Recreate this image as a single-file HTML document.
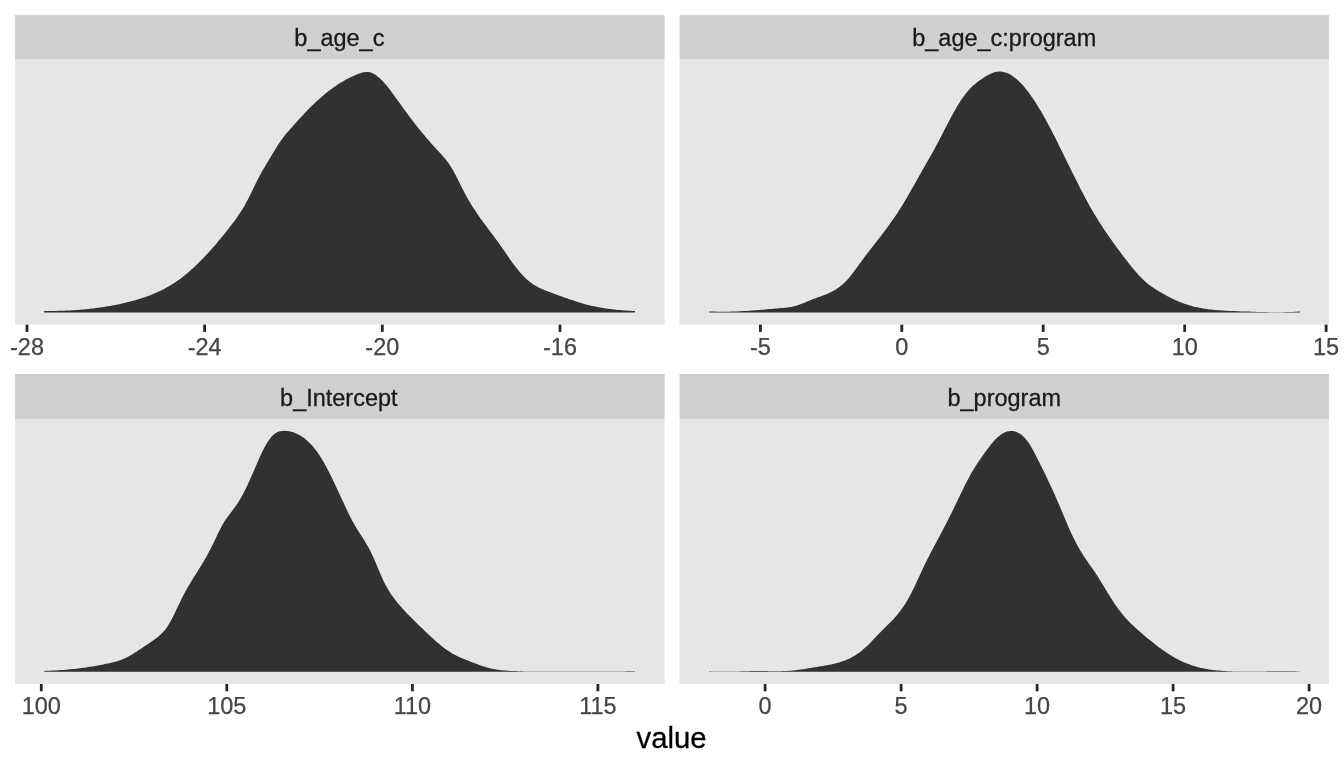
<!DOCTYPE html>
<html lang="en">
<head>
<meta charset="utf-8">
<title>Posterior densities</title>
<style>
html,body{margin:0;padding:0;background:#fff;}
body{width:1344px;height:768px;overflow:hidden;}
svg{display:block;}
text{font-family:"Liberation Sans",sans-serif;}
.strip{font-size:23.47px;fill:#1A1A1A;stroke:#1A1A1A;stroke-width:0.3px;text-anchor:middle;}
.ax{font-size:23.47px;fill:#454545;stroke:#454545;stroke-width:0.25px;text-anchor:middle;}
.title{font-size:29.33px;fill:#000;stroke:#000;stroke-width:0.3px;text-anchor:middle;}
</style>
</head>
<body>
<svg width="1344" height="768" viewBox="0 0 1344 768">
<rect x="0" y="0" width="1344" height="768" fill="#FFFFFF"/>
<g>
<rect x="15" y="15" width="649.6" height="44.2" fill="#D0D0D0"/>
<rect x="15" y="59.2" width="649.6" height="265.4" fill="#E6E6E6"/>
<text class="strip" x="339.4" y="46">b_age_c</text>
<path d="M44.1 312.6L44.1 311.0L46.1 311.0L48.1 311.0L50.1 311.0L52.1 311.0L54.1 310.9L56.1 310.9L58.1 310.8L60.1 310.8L62.1 310.7L64.1 310.7L66.1 310.6L68.1 310.5L70.1 310.4L72.1 310.3L74.1 310.2L76.1 310.0L78.1 309.9L80.1 309.7L82.1 309.6L84.1 309.4L86.1 309.2L88.1 309.0L90.1 308.8L92.1 308.6L94.1 308.4L96.1 308.1L98.1 307.8L100.1 307.6L102.1 307.3L104.1 307.0L106.1 306.6L108.1 306.3L110.1 306.0L112.1 305.6L114.1 305.2L116.1 304.8L118.1 304.4L120.1 304.0L122.1 303.5L124.1 303.1L126.1 302.6L128.1 302.1L130.1 301.6L132.1 301.0L134.1 300.5L136.1 299.9L138.1 299.3L140.1 298.7L142.1 298.0L144.1 297.4L146.1 296.7L148.1 295.9L150.1 295.2L152.1 294.4L154.1 293.6L156.1 292.7L158.1 291.8L160.1 290.9L162.1 289.9L164.1 288.9L166.1 287.8L168.1 286.7L170.1 285.5L172.1 284.3L174.1 283.0L176.1 281.7L178.1 280.3L180.1 278.9L182.1 277.4L184.1 275.8L186.1 274.2L188.1 272.5L190.1 270.8L192.1 269.0L194.1 267.2L196.1 265.3L198.1 263.3L200.1 261.3L202.1 259.3L204.1 257.2L206.1 255.1L208.1 252.9L210.1 250.7L212.1 248.5L214.1 246.2L216.1 243.9L218.1 241.5L220.1 239.1L222.1 236.7L224.1 234.2L226.1 231.7L228.1 229.2L230.1 226.6L232.1 224.0L234.1 221.4L236.1 218.7L238.1 215.8L240.1 212.8L242.1 209.7L244.1 206.4L246.1 202.8L248.1 199.0L250.1 195.0L252.1 190.9L254.1 186.8L256.1 182.7L258.1 178.8L260.1 175.0L262.1 171.3L264.1 167.9L266.1 164.5L268.1 161.2L270.1 157.9L272.1 154.5L274.1 151.2L276.1 148.0L278.1 144.8L280.1 141.8L282.1 139.0L284.1 136.3L286.1 133.8L288.1 131.5L290.1 129.2L292.1 126.9L294.1 124.7L296.1 122.5L298.1 120.2L300.1 118.1L302.1 115.9L304.1 113.8L306.1 111.7L308.1 109.6L310.1 107.6L312.1 105.6L314.1 103.7L316.1 101.8L318.1 100.0L320.1 98.2L322.1 96.4L324.1 94.7L326.1 93.1L328.1 91.5L330.1 89.9L332.1 88.4L334.1 87.0L336.1 85.7L338.1 84.3L340.1 83.1L342.1 81.9L344.1 80.7L346.1 79.6L348.1 78.5L350.1 77.5L352.1 76.6L354.1 75.7L356.1 74.8L358.1 74.0L360.1 73.2L362.1 72.6L364.1 72.2L366.1 71.9L368.1 72.0L370.1 72.3L372.1 73.0L374.1 74.0L376.1 75.3L378.1 76.9L380.1 78.6L382.1 80.6L384.1 82.8L386.1 85.1L388.1 87.6L390.1 90.1L392.1 92.7L394.1 95.5L396.1 98.2L398.1 101.0L400.1 103.8L402.1 106.6L404.1 109.4L406.1 112.1L408.1 114.8L410.1 117.5L412.1 120.1L414.1 122.7L416.1 125.2L418.1 127.7L420.1 130.2L422.1 132.7L424.1 135.1L426.1 137.5L428.1 139.8L430.1 142.1L432.1 144.4L434.1 146.6L436.1 148.8L438.1 151.0L440.1 153.1L442.1 155.3L444.1 157.6L446.1 160.0L448.1 162.6L450.1 165.6L452.1 168.8L454.1 172.3L456.1 176.1L458.1 180.1L460.1 184.1L462.1 188.1L464.1 192.0L466.1 195.7L468.1 199.2L470.1 202.6L472.1 205.9L474.1 209.0L476.1 212.1L478.1 215.0L480.1 217.9L482.1 220.6L484.1 223.4L486.1 226.1L488.1 228.7L490.1 231.4L492.1 234.0L494.1 236.7L496.1 239.4L498.1 242.1L500.1 244.9L502.1 247.8L504.1 250.7L506.1 253.6L508.1 256.5L510.1 259.4L512.1 262.2L514.1 264.9L516.1 267.5L518.1 270.0L520.1 272.4L522.1 274.6L524.1 276.7L526.1 278.7L528.1 280.5L530.1 282.1L532.1 283.6L534.1 284.9L536.1 286.1L538.1 287.2L540.1 288.2L542.1 289.1L544.1 290.0L546.1 290.8L548.1 291.6L550.1 292.3L552.1 293.0L554.1 293.8L556.1 294.5L558.1 295.2L560.1 295.9L562.1 296.6L564.1 297.4L566.1 298.1L568.1 298.8L570.1 299.5L572.1 300.1L574.1 300.8L576.1 301.5L578.1 302.1L580.1 302.7L582.1 303.3L584.1 303.9L586.1 304.4L588.1 304.9L590.1 305.4L592.1 305.9L594.1 306.3L596.1 306.8L598.1 307.1L600.1 307.5L602.1 307.8L604.1 308.2L606.1 308.5L608.1 308.8L610.1 309.0L612.1 309.3L614.1 309.5L616.1 309.7L618.1 309.9L620.1 310.1L622.1 310.2L624.1 310.4L626.1 310.5L628.1 310.7L630.1 310.8L632.1 310.9L634.1 311.0L635.0 311.0L635.0 312.6Z" fill="#313131"/>
<line x1="27" y1="324.6" x2="27" y2="331.9" stroke="#262626" stroke-width="2.8"/>
<text class="ax" x="27" y="355.1">-28</text>
<line x1="204.6" y1="324.6" x2="204.6" y2="331.9" stroke="#262626" stroke-width="2.8"/>
<text class="ax" x="204.6" y="355.1">-24</text>
<line x1="382.3" y1="324.6" x2="382.3" y2="331.9" stroke="#262626" stroke-width="2.8"/>
<text class="ax" x="382.3" y="355.1">-20</text>
<line x1="560" y1="324.6" x2="560" y2="331.9" stroke="#262626" stroke-width="2.8"/>
<text class="ax" x="560" y="355.1">-16</text>
</g>
<g>
<rect x="679.5" y="15" width="649.5" height="44.2" fill="#D0D0D0"/>
<rect x="679.5" y="59.2" width="649.5" height="265.4" fill="#E6E6E6"/>
<text class="strip" x="1004.25" y="46">b_age_c:program</text>
<path d="M709.1 312.6L709.1 311.4L711.1 311.5L713.1 311.6L715.1 311.6L717.1 311.7L719.1 311.7L721.1 311.7L723.1 311.7L725.1 311.7L727.1 311.7L729.1 311.7L731.1 311.6L733.1 311.6L735.1 311.5L737.1 311.4L739.1 311.3L741.1 311.2L743.1 311.1L745.1 311.0L747.1 310.9L749.1 310.8L751.1 310.6L753.1 310.5L755.1 310.3L757.1 310.2L759.1 310.0L761.1 309.8L763.1 309.7L765.1 309.5L767.1 309.3L769.1 309.1L771.1 309.0L773.1 308.8L775.1 308.6L777.1 308.4L779.1 308.2L781.1 308.1L783.1 307.9L785.1 307.7L787.1 307.5L789.1 307.2L791.1 306.9L793.1 306.5L795.1 306.0L797.1 305.5L799.1 304.8L801.1 304.1L803.1 303.3L805.1 302.5L807.1 301.6L809.1 300.8L811.1 299.9L813.1 299.1L815.1 298.4L817.1 297.6L819.1 296.9L821.1 296.2L823.1 295.5L825.1 294.7L827.1 293.9L829.1 293.0L831.1 292.1L833.1 291.1L835.1 289.9L837.1 288.6L839.1 287.2L841.1 285.6L843.1 283.9L845.1 282.0L847.1 279.9L849.1 277.7L851.1 275.2L853.1 272.6L855.1 270.0L857.1 267.2L859.1 264.4L861.1 261.7L863.1 258.9L865.1 256.3L867.1 253.6L869.1 251.1L871.1 248.5L873.1 246.0L875.1 243.4L877.1 240.8L879.1 238.3L881.1 235.7L883.1 233.0L885.1 230.4L887.1 227.7L889.1 224.9L891.1 222.1L893.1 219.3L895.1 216.4L897.1 213.4L899.1 210.3L901.1 207.2L903.1 203.9L905.1 200.6L907.1 197.2L909.1 193.8L911.1 190.3L913.1 186.8L915.1 183.3L917.1 179.7L919.1 176.1L921.1 172.6L923.1 169.0L925.1 165.5L927.1 162.0L929.1 158.5L931.1 154.9L933.1 151.4L935.1 147.8L937.1 144.1L939.1 140.3L941.1 136.4L943.1 132.5L945.1 128.6L947.1 124.8L949.1 120.9L951.1 117.1L953.1 113.5L955.1 109.9L957.1 106.5L959.1 103.2L961.1 100.1L963.1 97.2L965.1 94.5L967.1 92.0L969.1 89.7L971.1 87.6L973.1 85.6L975.1 83.9L977.1 82.3L979.1 80.8L981.1 79.4L983.1 78.1L985.1 76.8L987.1 75.6L989.1 74.5L991.1 73.6L993.1 72.8L995.1 72.1L997.1 71.7L999.1 71.6L1001.1 71.6L1003.1 71.9L1005.1 72.4L1007.1 73.1L1009.1 74.0L1011.1 75.1L1013.1 76.4L1015.1 77.9L1017.1 79.6L1019.1 81.4L1021.1 83.5L1023.1 85.6L1025.1 88.0L1027.1 90.5L1029.1 93.1L1031.1 95.9L1033.1 98.8L1035.1 101.8L1037.1 105.0L1039.1 108.2L1041.1 111.6L1043.1 115.1L1045.1 118.6L1047.1 122.3L1049.1 126.0L1051.1 129.8L1053.1 133.7L1055.1 137.6L1057.1 141.6L1059.1 145.7L1061.1 149.7L1063.1 153.8L1065.1 157.8L1067.1 161.9L1069.1 166.0L1071.1 170.0L1073.1 174.0L1075.1 178.0L1077.1 182.0L1079.1 186.0L1081.1 189.9L1083.1 193.8L1085.1 197.6L1087.1 201.3L1089.1 204.9L1091.1 208.5L1093.1 211.9L1095.1 215.3L1097.1 218.6L1099.1 221.7L1101.1 224.8L1103.1 227.9L1105.1 230.9L1107.1 233.8L1109.1 236.7L1111.1 239.5L1113.1 242.4L1115.1 245.1L1117.1 247.9L1119.1 250.6L1121.1 253.3L1123.1 255.9L1125.1 258.5L1127.1 261.1L1129.1 263.7L1131.1 266.2L1133.1 268.7L1135.1 271.0L1137.1 273.3L1139.1 275.5L1141.1 277.6L1143.1 279.6L1145.1 281.4L1147.1 283.2L1149.1 284.7L1151.1 286.2L1153.1 287.6L1155.1 289.0L1157.1 290.2L1159.1 291.4L1161.1 292.6L1163.1 293.7L1165.1 294.8L1167.1 295.9L1169.1 296.9L1171.1 298.0L1173.1 298.9L1175.1 299.9L1177.1 300.8L1179.1 301.7L1181.1 302.5L1183.1 303.2L1185.1 304.0L1187.1 304.6L1189.1 305.2L1191.1 305.8L1193.1 306.4L1195.1 306.9L1197.1 307.3L1199.1 307.7L1201.1 308.1L1203.1 308.5L1205.1 308.8L1207.1 309.1L1209.1 309.4L1211.1 309.6L1213.1 309.8L1215.1 310.0L1217.1 310.2L1219.1 310.3L1221.1 310.5L1223.1 310.6L1225.1 310.7L1227.1 310.8L1229.1 310.9L1231.1 311.0L1233.1 311.1L1235.1 311.1L1237.1 311.2L1239.1 311.3L1241.1 311.4L1243.1 311.4L1245.1 311.5L1247.1 311.6L1249.1 311.6L1251.1 311.7L1253.1 311.8L1255.1 311.8L1257.1 311.9L1259.1 311.9L1261.1 312.0L1263.1 312.0L1265.1 312.1L1267.1 312.1L1269.1 312.2L1271.1 312.2L1273.1 312.2L1275.1 312.2L1277.1 312.2L1279.1 312.2L1281.1 312.2L1283.1 312.2L1285.1 312.1L1287.1 312.1L1289.1 312.1L1291.1 312.0L1293.1 311.9L1295.1 311.8L1297.1 311.7L1299.1 311.6L1300.0 311.6L1300.0 312.6Z" fill="#313131"/>
<line x1="760.4" y1="324.6" x2="760.4" y2="331.9" stroke="#262626" stroke-width="2.8"/>
<text class="ax" x="760.4" y="355.1">-5</text>
<line x1="901.8" y1="324.6" x2="901.8" y2="331.9" stroke="#262626" stroke-width="2.8"/>
<text class="ax" x="901.8" y="355.1">0</text>
<line x1="1043.2" y1="324.6" x2="1043.2" y2="331.9" stroke="#262626" stroke-width="2.8"/>
<text class="ax" x="1043.2" y="355.1">5</text>
<line x1="1184.7" y1="324.6" x2="1184.7" y2="331.9" stroke="#262626" stroke-width="2.8"/>
<text class="ax" x="1184.7" y="355.1">10</text>
<line x1="1326.1" y1="324.6" x2="1326.1" y2="331.9" stroke="#262626" stroke-width="2.8"/>
<text class="ax" x="1326.1" y="355.1">15</text>
</g>
<g>
<rect x="15" y="374" width="649.6" height="44.9" fill="#D0D0D0"/>
<rect x="15" y="418.9" width="649.6" height="265.1" fill="#E6E6E6"/>
<text class="strip" x="338.8" y="405.8">b_Intercept</text>
<path d="M44.1 671.7L44.1 670.9L46.1 670.8L48.1 670.8L50.1 670.7L52.1 670.6L54.1 670.5L56.1 670.4L58.1 670.3L60.1 670.1L62.1 670.0L64.1 669.9L66.1 669.7L68.1 669.5L70.1 669.3L72.1 669.1L74.1 668.9L76.1 668.7L78.1 668.5L80.1 668.2L82.1 668.0L84.1 667.7L86.1 667.4L88.1 667.1L90.1 666.8L92.1 666.5L94.1 666.2L96.1 665.8L98.1 665.4L100.1 665.1L102.1 664.7L104.1 664.2L106.1 663.8L108.1 663.4L110.1 662.9L112.1 662.4L114.1 662.0L116.1 661.4L118.1 660.9L120.1 660.2L122.1 659.5L124.1 658.6L126.1 657.7L128.1 656.7L130.1 655.6L132.1 654.4L134.1 653.1L136.1 651.9L138.1 650.6L140.1 649.2L142.1 647.9L144.1 646.6L146.1 645.3L148.1 644.0L150.1 642.6L152.1 641.2L154.1 639.8L156.1 638.3L158.1 636.7L160.1 634.9L162.1 633.0L164.1 630.9L166.1 628.4L168.1 625.5L170.1 622.1L172.1 618.4L174.1 614.5L176.1 610.3L178.1 606.1L180.1 601.9L182.1 597.8L184.1 593.9L186.1 590.3L188.1 586.8L190.1 583.4L192.1 580.1L194.1 576.8L196.1 573.7L198.1 570.5L200.1 567.3L202.1 564.0L204.1 560.7L206.1 557.2L208.1 553.6L210.1 549.8L212.1 545.8L214.1 541.7L216.1 537.5L218.1 533.3L220.1 529.2L222.1 525.4L224.1 522.0L226.1 519.0L228.1 516.2L230.1 513.6L232.1 511.0L234.1 508.3L236.1 505.5L238.1 502.5L240.1 499.3L242.1 495.8L244.1 492.0L246.1 488.0L248.1 483.7L250.1 479.3L252.1 474.8L254.1 470.2L256.1 465.5L258.1 460.9L260.1 456.3L262.1 452.0L264.1 448.0L266.1 444.4L268.1 441.2L270.1 438.4L272.1 436.0L274.1 434.2L276.1 432.8L278.1 431.8L280.1 431.2L282.1 430.9L284.1 430.8L286.1 430.9L288.1 431.1L290.1 431.5L292.1 432.0L294.1 432.6L296.1 433.4L298.1 434.3L300.1 435.4L302.1 436.7L304.1 438.1L306.1 439.7L308.1 441.5L310.1 443.4L312.1 445.6L314.1 447.9L316.1 450.5L318.1 453.2L320.1 456.2L322.1 459.4L324.1 462.8L326.1 466.4L328.1 470.2L330.1 474.2L332.1 478.3L334.1 482.5L336.1 486.7L338.1 491.0L340.1 495.4L342.1 499.7L344.1 504.1L346.1 508.3L348.1 512.5L350.1 516.6L352.1 520.5L354.1 524.1L356.1 527.4L358.1 530.7L360.1 533.8L362.1 536.9L364.1 540.1L366.1 543.4L368.1 546.8L370.1 550.6L372.1 554.7L374.1 559.1L376.1 563.7L378.1 568.5L380.1 573.2L382.1 577.8L384.1 582.2L386.1 586.1L388.1 589.6L390.1 592.8L392.1 595.7L394.1 598.3L396.1 600.9L398.1 603.4L400.1 605.7L402.1 608.0L404.1 610.3L406.1 612.4L408.1 614.5L410.1 616.6L412.1 618.6L414.1 620.6L416.1 622.6L418.1 624.5L420.1 626.4L422.1 628.3L424.1 630.3L426.1 632.2L428.1 634.1L430.1 636.0L432.1 637.8L434.1 639.6L436.1 641.4L438.1 643.1L440.1 644.8L442.1 646.4L444.1 648.0L446.1 649.4L448.1 650.8L450.1 652.1L452.1 653.4L454.1 654.5L456.1 655.6L458.1 656.6L460.1 657.5L462.1 658.3L464.1 659.1L466.1 659.9L468.1 660.6L470.1 661.4L472.1 662.2L474.1 663.0L476.1 663.8L478.1 664.5L480.1 665.3L482.1 666.0L484.1 666.6L486.1 667.2L488.1 667.8L490.1 668.3L492.1 668.7L494.1 669.1L496.1 669.4L498.1 669.7L500.1 670.0L502.1 670.2L504.1 670.4L506.1 670.6L508.1 670.7L510.1 670.9L512.1 671.0L514.1 671.1L516.1 671.1L518.1 671.2L520.1 671.3L522.1 671.3L524.1 671.4L526.1 671.4L528.1 671.5L530.1 671.5L532.1 671.5L534.1 671.6L536.1 671.6L538.1 671.6L540.1 671.6L542.1 671.6L544.1 671.6L546.1 671.6L548.1 671.6L550.1 671.6L552.1 671.6L554.1 671.6L556.1 671.6L558.1 671.6L560.1 671.6L562.1 671.6L564.1 671.6L566.1 671.6L568.1 671.6L570.1 671.6L572.1 671.6L574.1 671.6L576.1 671.6L578.1 671.6L580.1 671.6L582.1 671.6L584.1 671.6L586.1 671.6L588.1 671.6L590.1 671.6L592.1 671.6L594.1 671.6L596.1 671.6L598.1 671.6L600.1 671.6L602.1 671.5L604.1 671.5L606.1 671.5L608.1 671.5L610.1 671.5L612.1 671.5L614.1 671.4L616.1 671.4L618.1 671.4L620.1 671.4L622.1 671.4L624.1 671.4L626.1 671.3L628.1 671.3L630.1 671.3L632.1 671.3L634.1 671.3L635.0 671.3L635.0 671.7Z" fill="#313131"/>
<line x1="41.3" y1="684" x2="41.3" y2="691.3" stroke="#262626" stroke-width="2.8"/>
<text class="ax" x="41.3" y="714.2">100</text>
<line x1="226.8" y1="684" x2="226.8" y2="691.3" stroke="#262626" stroke-width="2.8"/>
<text class="ax" x="226.8" y="714.2">105</text>
<line x1="412.4" y1="684" x2="412.4" y2="691.3" stroke="#262626" stroke-width="2.8"/>
<text class="ax" x="412.4" y="714.2">110</text>
<line x1="597.9" y1="684" x2="597.9" y2="691.3" stroke="#262626" stroke-width="2.8"/>
<text class="ax" x="597.9" y="714.2">115</text>
</g>
<g>
<rect x="679.5" y="374" width="649.5" height="44.9" fill="#D0D0D0"/>
<rect x="679.5" y="418.9" width="649.5" height="265.1" fill="#E6E6E6"/>
<text class="strip" x="1004.25" y="405.8">b_program</text>
<path d="M709.1 671.7L709.1 671.3L711.1 671.4L713.1 671.5L715.1 671.6L717.1 671.6L719.1 671.6L721.1 671.6L723.1 671.6L725.1 671.6L727.1 671.6L729.1 671.6L731.1 671.6L733.1 671.5L735.1 671.5L737.1 671.4L739.1 671.4L741.1 671.3L743.1 671.3L745.1 671.3L747.1 671.2L749.1 671.2L751.1 671.1L753.1 671.1L755.1 671.1L757.1 671.1L759.1 671.1L761.1 671.1L763.1 671.1L765.1 671.1L767.1 671.1L769.1 671.2L771.1 671.2L773.1 671.2L775.1 671.2L777.1 671.2L779.1 671.2L781.1 671.2L783.1 671.1L785.1 671.0L787.1 671.0L789.1 670.8L791.1 670.7L793.1 670.5L795.1 670.3L797.1 670.0L799.1 669.8L801.1 669.5L803.1 669.2L805.1 668.9L807.1 668.6L809.1 668.2L811.1 667.9L813.1 667.5L815.1 667.2L817.1 666.9L819.1 666.5L821.1 666.2L823.1 665.9L825.1 665.5L827.1 665.2L829.1 664.8L831.1 664.4L833.1 664.0L835.1 663.5L837.1 663.0L839.1 662.4L841.1 661.8L843.1 661.1L845.1 660.4L847.1 659.6L849.1 658.7L851.1 657.7L853.1 656.6L855.1 655.4L857.1 654.1L859.1 652.7L861.1 651.2L863.1 649.6L865.1 647.8L867.1 645.9L869.1 644.0L871.1 641.9L873.1 639.8L875.1 637.7L877.1 635.5L879.1 633.4L881.1 631.4L883.1 629.4L885.1 627.5L887.1 625.6L889.1 623.6L891.1 621.6L893.1 619.5L895.1 617.3L897.1 614.9L899.1 612.4L901.1 609.8L903.1 606.9L905.1 603.9L907.1 600.7L909.1 597.3L911.1 593.6L913.1 589.6L915.1 585.4L917.1 581.1L919.1 576.8L921.1 572.4L923.1 568.0L925.1 563.8L927.1 559.8L929.1 555.9L931.1 552.0L933.1 548.3L935.1 544.6L937.1 540.8L939.1 537.1L941.1 533.3L943.1 529.5L945.1 525.6L947.1 521.8L949.1 517.8L951.1 513.8L953.1 509.8L955.1 505.6L957.1 501.4L959.1 497.2L961.1 493.0L963.1 488.9L965.1 484.8L967.1 480.9L969.1 477.2L971.1 473.6L973.1 470.2L975.1 466.9L977.1 463.8L979.1 460.8L981.1 457.9L983.1 455.1L985.1 452.3L987.1 449.5L989.1 446.9L991.1 444.3L993.1 441.9L995.1 439.7L997.1 437.7L999.1 436.0L1001.1 434.5L1003.1 433.2L1005.1 432.3L1007.1 431.6L1009.1 431.2L1011.1 431.0L1013.1 431.1L1015.1 431.5L1017.1 432.2L1019.1 433.2L1021.1 434.5L1023.1 436.2L1025.1 438.2L1027.1 440.7L1029.1 443.5L1031.1 446.8L1033.1 450.3L1035.1 454.1L1037.1 458.0L1039.1 462.0L1041.1 466.0L1043.1 470.0L1045.1 474.1L1047.1 478.2L1049.1 482.4L1051.1 486.7L1053.1 491.1L1055.1 495.6L1057.1 500.2L1059.1 504.8L1061.1 509.6L1063.1 514.3L1065.1 519.1L1067.1 523.8L1069.1 528.4L1071.1 532.9L1073.1 537.1L1075.1 541.1L1077.1 544.9L1079.1 548.4L1081.1 551.7L1083.1 554.9L1085.1 558.0L1087.1 560.9L1089.1 563.9L1091.1 566.7L1093.1 569.6L1095.1 572.6L1097.1 575.6L1099.1 578.7L1101.1 582.0L1103.1 585.3L1105.1 588.6L1107.1 591.9L1109.1 595.1L1111.1 598.3L1113.1 601.4L1115.1 604.4L1117.1 607.2L1119.1 610.0L1121.1 612.6L1123.1 615.1L1125.1 617.4L1127.1 619.6L1129.1 621.7L1131.1 623.7L1133.1 625.6L1135.1 627.5L1137.1 629.3L1139.1 631.0L1141.1 632.8L1143.1 634.5L1145.1 636.2L1147.1 637.9L1149.1 639.5L1151.1 641.1L1153.1 642.7L1155.1 644.3L1157.1 645.9L1159.1 647.4L1161.1 648.8L1163.1 650.2L1165.1 651.6L1167.1 653.0L1169.1 654.3L1171.1 655.5L1173.1 656.7L1175.1 657.9L1177.1 659.0L1179.1 660.0L1181.1 661.0L1183.1 661.9L1185.1 662.8L1187.1 663.6L1189.1 664.3L1191.1 665.0L1193.1 665.7L1195.1 666.3L1197.1 666.9L1199.1 667.4L1201.1 667.9L1203.1 668.3L1205.1 668.7L1207.1 669.1L1209.1 669.4L1211.1 669.7L1213.1 670.0L1215.1 670.2L1217.1 670.5L1219.1 670.6L1221.1 670.8L1223.1 670.9L1225.1 671.1L1227.1 671.2L1229.1 671.3L1231.1 671.3L1233.1 671.4L1235.1 671.5L1237.1 671.5L1239.1 671.5L1241.1 671.5L1243.1 671.6L1245.1 671.6L1247.1 671.6L1249.1 671.6L1251.1 671.5L1253.1 671.5L1255.1 671.5L1257.1 671.5L1259.1 671.5L1261.1 671.4L1263.1 671.4L1265.1 671.4L1267.1 671.3L1269.1 671.3L1271.1 671.3L1273.1 671.3L1275.1 671.2L1277.1 671.2L1279.1 671.2L1281.1 671.2L1283.1 671.2L1285.1 671.2L1287.1 671.2L1289.1 671.2L1291.1 671.2L1293.1 671.3L1295.1 671.3L1297.1 671.4L1299.1 671.4L1300.0 671.5L1300.0 671.7Z" fill="#313131"/>
<line x1="765.1" y1="684" x2="765.1" y2="691.3" stroke="#262626" stroke-width="2.8"/>
<text class="ax" x="765.1" y="714.2">0</text>
<line x1="901.1" y1="684" x2="901.1" y2="691.3" stroke="#262626" stroke-width="2.8"/>
<text class="ax" x="901.1" y="714.2">5</text>
<line x1="1037.1" y1="684" x2="1037.1" y2="691.3" stroke="#262626" stroke-width="2.8"/>
<text class="ax" x="1037.1" y="714.2">10</text>
<line x1="1173.1" y1="684" x2="1173.1" y2="691.3" stroke="#262626" stroke-width="2.8"/>
<text class="ax" x="1173.1" y="714.2">15</text>
<line x1="1309.1" y1="684" x2="1309.1" y2="691.3" stroke="#262626" stroke-width="2.8"/>
<text class="ax" x="1309.1" y="714.2">20</text>
</g>
<text class="title" x="671.6" y="748.2">value</text>
</svg>
</body>
</html>
